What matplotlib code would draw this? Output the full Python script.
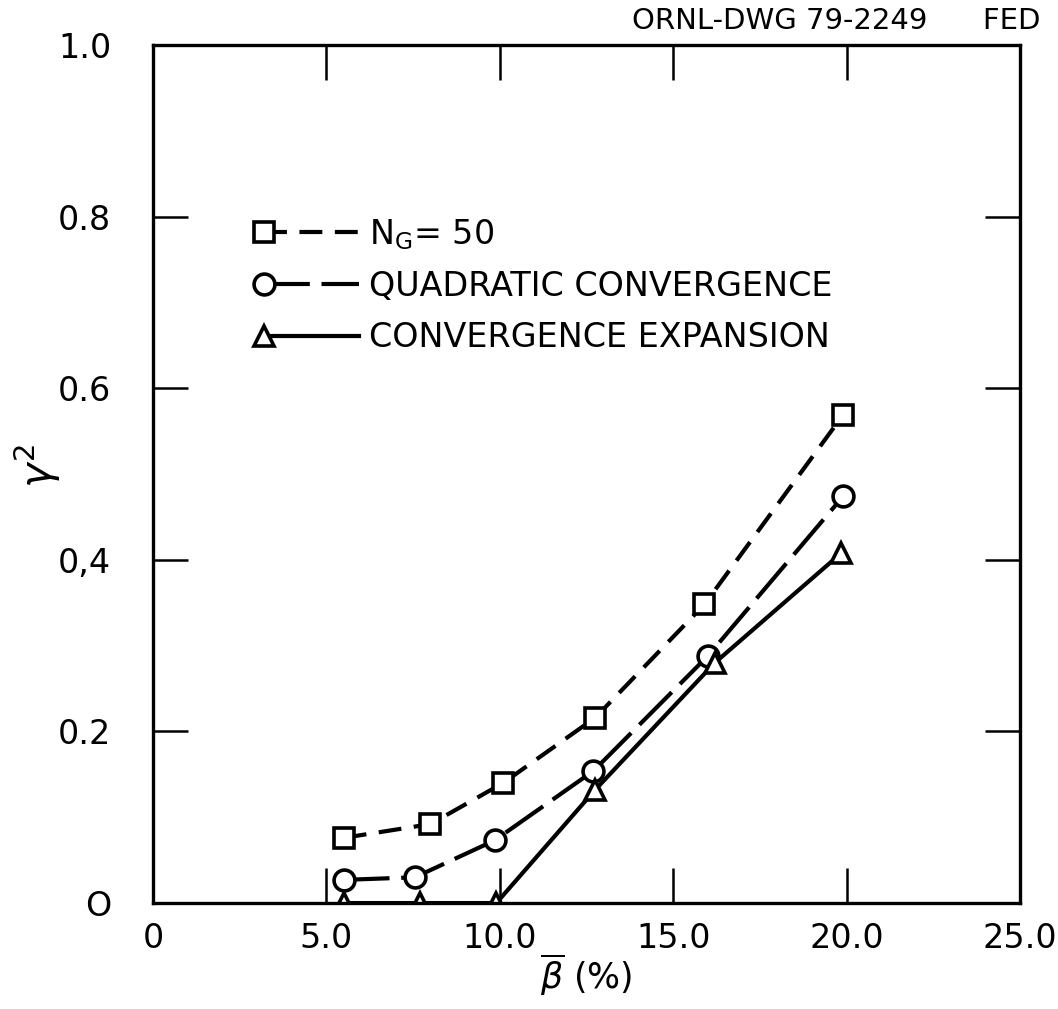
import matplotlib
matplotlib.use("Agg")
import matplotlib.pyplot as plt
from matplotlib.legend_handler import HandlerLine2D
from matplotlib.lines import Line2D

# N_G = 50
beta_sq = [5.5, 8.0, 10.1, 12.75, 15.9, 19.9]
gamma_sq = [0.076, 0.092, 0.140, 0.216, 0.348, 0.569]
# quadratic convergence
beta_ci = [5.5, 7.55, 9.85, 12.7, 16.0, 19.9]
gamma_ci = [0.027, 0.030, 0.073, 0.154, 0.288, 0.474]
# convergence expansion
beta_tr = [5.5, 7.7, 9.9, 12.75, 16.2, 19.85]
gamma_tr = [0.0, 0.0, 0.0, 0.132, 0.280, 0.408]

xticks = [0, 5, 10, 15, 20, 25]
xtick_labels = ["0", "5.0", "10.0", "15.0", "20.0", "25.0"]
yticks = [0, 0.2, 0.4, 0.6, 0.8, 1.0]
ytick_labels = ["O", "0.2", "0,4", "0.6", "0.8", "1.0"]


class LeftMarker(HandlerLine2D):
  # legend key: marker at the left end, line running to the right
  def create_artists(self, legend, orig_handle, xdescent, ydescent,
                     width, height, fontsize, trans):
    y = (height - ydescent) / 2
    x0, x1 = -xdescent, -xdescent + width
    line = Line2D([x0, x1], [y, y])
    self.update_prop(line, orig_handle, legend)
    line.set_marker('None')
    mark = Line2D([x0], [y])
    self.update_prop(mark, orig_handle, legend)
    mark.set_linestyle('None')
    line.set_transform(trans)
    mark.set_transform(trans)
    return [line, mark]


def main():
  plt.rcParams['font.family'] = ['DejaVu Sans']
  fig = plt.figure(figsize=(10.58, 10.09), dpi=100)
  ax = fig.add_axes([0.1446, 0.105, 0.8195, 0.8504])

  lw = 3.0
  mk = dict(markersize=15, markerfacecolor='white', markeredgecolor='black',
            markeredgewidth=2.6, color='black', linewidth=lw)

  ax.plot(beta_sq, gamma_sq, marker='s', dashes=(5.5, 3.0),
          label=r'N$_\mathregular{G}$= 50', **mk)
  ax.plot(beta_ci, gamma_ci, marker='o', dashes=(11, 2.8),
          label='QUADRATIC CONVERGENCE', **mk)
  ax.plot(beta_tr, gamma_tr, marker='^', linestyle='-',
          label='CONVERGENCE EXPANSION', **mk)

  ax.set_xlim(0, 25)
  ax.set_ylim(0, 1.0)
  ax.set_xticks(xticks)
  ax.set_xticklabels(xtick_labels)
  ax.set_yticks(yticks)
  ax.set_yticklabels(ytick_labels)
  ax.tick_params(direction='in', length=25, width=1.8, top=True, right=True,
                 labelsize=24)
  ax.tick_params(axis='x', pad=14)
  ax.tick_params(axis='y', pad=30)
  for s in ax.spines.values():
    s.set_linewidth(2.4)

  ax.set_xlabel(r'$\overline{\beta}$ (%)', fontsize=25, va='center')
  ax.xaxis.set_label_coords(0.5, -0.083)
  ax.set_ylabel(r'$\gamma^2$', fontsize=30, va='center')
  ax.yaxis.set_label_coords(-0.133, 0.51)

  ax.legend(loc='upper left', bbox_to_anchor=(0.113, 0.815), frameon=False,
            fontsize=24, handlelength=2.85, handletextpad=0.3,
            labelspacing=0.55, borderaxespad=0,
            handler_map={Line2D: LeftMarker()})

  fig.text(0.983, 0.979, 'ORNL-DWG 79-2249      FED', ha='right', va='center',
           fontsize=21)

  fig.savefig('out.png', dpi=100)


if __name__ == "__main__":
  main()
